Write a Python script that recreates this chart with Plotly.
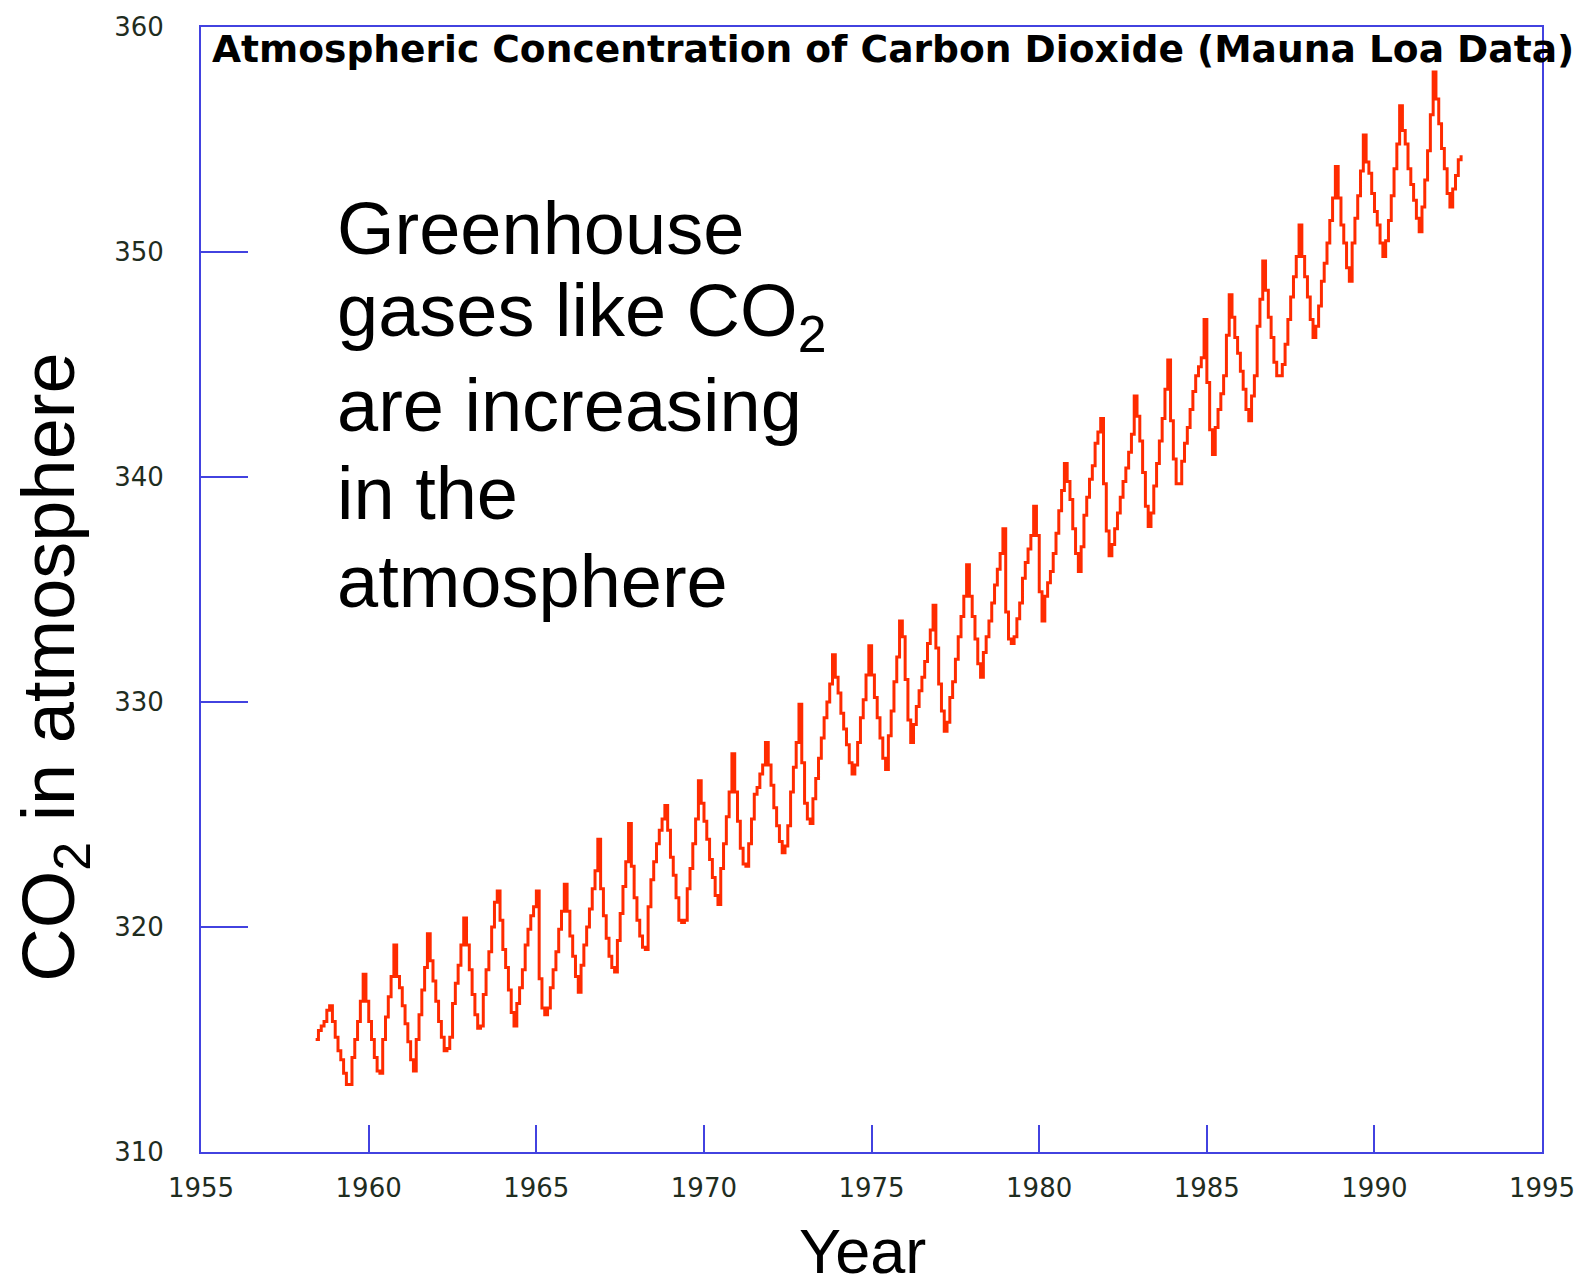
import plotly.graph_objects as go

# Monthly CO2 concentration (ppm) at Mauna Loa, one value per month,
# the first one plotted at FIRST_MONTH on the time axis.
FIRST_MONTH = 1958.42

co2_1958_1966 = [
    315.0, 315.4, 315.6, 315.8, 316.3, 316.5, 315.8, 315.1, 314.5, 314.1, 313.5, 313.0,
    313.0, 314.2, 315.0, 315.8, 316.7, 317.9, 316.7, 315.8, 315.0, 314.2, 313.6, 313.5,
    315.0, 316.0, 316.9, 317.8, 319.2, 317.8, 317.3, 316.5, 315.7, 314.9, 314.1, 313.6,
    315.0, 316.1, 317.2, 318.2, 319.7, 318.5, 317.6, 316.7, 315.8, 315.1, 314.5, 314.6,
    315.1, 316.6, 317.5, 318.3, 319.2, 320.4, 319.2, 318.1, 317.0, 316.1, 315.5, 315.6,
    317.0, 318.1, 318.9, 320.0, 321.1, 321.6, 320.3, 319.0, 318.2, 317.2, 316.2, 315.6,
    316.6, 317.3, 318.1, 319.2, 319.9, 320.5, 320.9, 321.6, 317.7, 316.4, 316.1, 316.4,
    317.3, 318.1, 318.9, 319.9, 320.7, 321.9, 320.7, 319.6, 318.7, 317.8, 317.1, 318.3,
    319.2, 320.0, 320.8, 321.7, 322.5, 323.9, 321.7, 320.5, 319.5, 318.7, 318.2, 318.0,
]

co2_1967_1976 = [
    319.4, 320.6, 321.8, 322.9, 324.6, 322.7, 321.3, 320.3, 319.6, 319.1, 319.0, 320.9,
    322.1, 322.9, 323.7, 324.3, 324.8, 325.4, 324.3, 323.1, 322.3, 321.3, 320.3, 320.2,
    320.3, 321.7, 322.6, 323.7, 324.8, 326.5, 325.5, 324.7, 323.9, 323.0, 322.2, 321.4,
    321.0, 322.6, 323.7, 324.9, 326.0, 327.7, 326.0, 324.7, 323.5, 322.8, 322.7, 323.7,
    324.8, 325.9, 326.2, 326.8, 327.2, 328.2, 327.2, 326.3, 325.3, 324.5, 323.8, 323.3,
    323.6, 324.5, 326.0, 327.1, 328.2, 329.9, 327.3, 325.5, 324.8, 324.6, 325.7, 326.6,
    327.5, 328.4, 329.3, 330.0, 330.8, 332.1, 331.1, 330.4, 329.5, 328.8, 328.1, 327.3,
    326.8, 327.2, 328.2, 329.3, 330.1, 331.2, 332.5, 331.2, 330.2, 329.3, 328.4, 327.5,
    327.0, 328.5, 329.6, 330.9, 332.0, 333.6, 332.9, 331.0, 329.2, 328.2, 329.0, 329.8,
    330.5, 331.1, 331.8, 332.6, 333.2, 334.3, 332.4, 330.8, 329.6, 328.7, 329.1, 330.2,
]

co2_1977_1986 = [
    330.9, 331.9, 332.9, 333.8, 334.7, 336.1, 334.7, 333.8, 332.8, 331.7, 331.1, 332.2,
    332.9, 333.6, 334.4, 335.2, 335.9, 336.6, 337.7, 334.0, 332.8, 332.6, 332.9, 333.7,
    334.4, 335.5, 336.2, 336.8, 337.4, 338.7, 337.4, 334.9, 333.6, 334.7, 335.3, 335.8,
    336.6, 337.5, 338.5, 339.4, 340.6, 339.8, 339.0, 337.7, 336.6, 335.8, 336.9, 338.3,
    339.1, 339.9, 340.5, 341.5, 342.0, 342.6, 339.7, 337.6, 336.5, 337.0, 337.7, 338.4,
    339.1, 339.8, 340.4, 341.1, 341.9, 343.6, 342.7, 341.6, 340.2, 338.7, 337.8, 338.4,
    339.6, 340.6, 341.6, 342.6, 343.9, 345.2, 342.5, 340.8, 339.7, 339.7, 340.7, 341.5,
    342.2, 343.0, 343.8, 344.5, 344.9, 345.3, 347.0, 344.2, 342.1, 341.0, 342.2, 343.0,
    343.7, 344.5, 346.3, 348.1, 347.1, 346.2, 345.5, 344.7, 343.9, 343.0, 342.5, 343.6,
    344.5, 346.7, 347.9, 349.6, 348.3, 347.1, 346.2, 345.1, 344.5, 344.5, 345.0, 345.9,
]

co2_1987_1992 = [
    347.0, 348.0, 348.9, 349.8, 351.2, 349.8, 348.9, 348.0, 347.0, 346.2, 346.7, 347.6,
    348.7, 349.5, 350.4, 351.4, 352.4, 353.8, 352.4, 351.2, 350.4, 349.3, 348.7, 350.4,
    351.5, 352.5, 353.6, 355.2, 354.0, 353.5, 352.6, 351.8, 351.2, 350.4, 349.8, 350.5,
    351.4, 352.5, 353.7, 354.8, 356.5, 355.4, 354.8, 353.7, 353.0, 352.3, 351.5, 350.9,
    352.0, 353.2, 354.5, 356.1, 358.0, 356.8, 355.7, 354.6, 353.7, 352.6, 352.0, 352.8,
    353.4, 354.1, 354.3,
]

X_TICKS = [1955, 1960, 1965, 1970, 1975, 1980, 1985, 1990, 1995]
Y_TICKS = [310, 320, 330, 340, 350, 360]

TITLE = "Atmospheric Concentration of Carbon Dioxide (Mauna Loa Data)"
NOTE_LINES = [
    "Greenhouse",
    "gases like CO<sub>2</sub>",
    "are increasing",
    "in the",
    "atmosphere",
]
Y_LABEL = "CO<sub>2</sub> in atmosphere"
X_LABEL = "Year"

ppm = co2_1958_1966 + co2_1967_1976 + co2_1977_1986 + co2_1987_1992
years = [FIRST_MONTH + i / 12 for i in range(len(ppm))]

# page geometry of the plotting frame
W, H = 1587, 1284
LEFT, RIGHT, TOP, BOTTOM = 201, 1547, 22, 1152
AXIS_BLUE = "#4242e0"
LINE_RED = "#ff2b00"
TICK_TEXT = "#1f2d1f"


def px_x(px):
    return (px - LEFT) / (RIGHT - LEFT)


def px_y(py):
    return (BOTTOM - py) / (BOTTOM - TOP)


fig = go.Figure(
    go.Scatter(
        x=years,
        y=ppm,
        mode="lines",
        line=dict(color=LINE_RED, width=3, shape="hv"),
        hoverinfo="skip",
    )
)

axis_common = dict(
    ticks="inside",
    tickwidth=2,
    tickcolor=AXIS_BLUE,
    showline=True,
    linecolor=AXIS_BLUE,
    linewidth=2,
    mirror=True,
    showgrid=False,
    zeroline=False,
    tickfont=dict(family="DejaVu Sans", size=26, color=TICK_TEXT),
)

fig.update_xaxes(
    range=[1955, 1995],
    tickvals=X_TICKS,
    ticktext=[str(v) for v in X_TICKS],
    ticklen=27,
    ticklabelstandoff=12,
    **axis_common,
)
fig.update_yaxes(
    range=[310, 360],
    tickvals=Y_TICKS,
    ticktext=[str(v) for v in Y_TICKS],
    ticklen=47,
    ticklabelstandoff=30,
    **axis_common,
)

annotations = [
    dict(
        text=TITLE,
        x=px_x(210), y=px_y(44),
        xanchor="left", yanchor="middle",
        font=dict(family="DejaVu Sans", size=37.6, color="black", weight="bold"),
    ),
    dict(
        text=Y_LABEL,
        x=px_x(54), y=px_y(665),
        xanchor="center", yanchor="middle",
        textangle=-90,
        font=dict(family="Liberation Sans", size=74, color="black"),
    ),
    dict(
        text=X_LABEL,
        x=px_x(865), y=px_y(1251),
        xanchor="center", yanchor="middle",
        font=dict(family="Liberation Sans", size=63, color="black"),
    ),
]

note_centers = [224, 312, 402, 491, 579]
for line, cy in zip(NOTE_LINES, note_centers):
    annotations.append(
        dict(
            text=line,
            x=px_x(335), y=px_y(cy),
            xanchor="left", yanchor="middle",
            font=dict(family="Liberation Sans", size=74, color="black"),
        )
    )

for a in annotations:
    a.update(xref="paper", yref="paper", showarrow=False)

fig.update_layout(
    width=W,
    height=H,
    margin=dict(l=LEFT, r=W - RIGHT, t=TOP, b=H - BOTTOM),
    paper_bgcolor="white",
    plot_bgcolor="white",
    showlegend=False,
    annotations=annotations,
)

fig.write_html("out.html")
